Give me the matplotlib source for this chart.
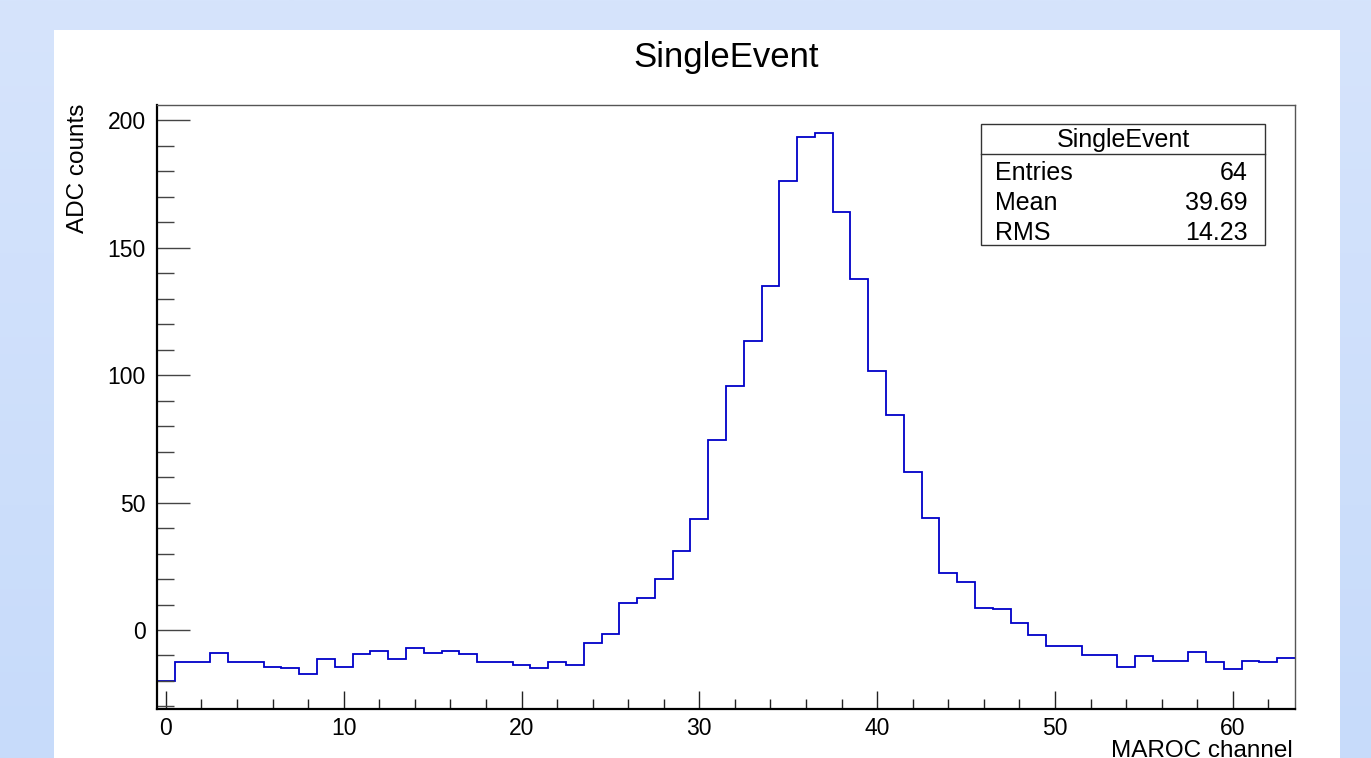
import numpy as np
import matplotlib
matplotlib.use("Agg")
import matplotlib.pyplot as plt
from matplotlib.patches import Rectangle
from matplotlib.ticker import MultipleLocator

plt.rcParams['font.family'] = ['Liberation Sans', 'DejaVu Sans']

# contenu du histogramme (64 canaux MAROC)
channels = np.arange(64)
adc_counts = [-20.0, -12.5, -12.5, -9.1, -12.5, -12.5, -14.4, -14.8, -17.3, -11.2,
              -14.4, -9.5, -8.2, -11.3, -6.9, -9.1, -8.2, -9.5, -12.5, -12.5,
              -13.9, -14.8, -12.4, -13.9, -5.0, -1.5, 10.4, 12.5, 20.2, 31.1,
              43.6, 74.4, 95.6, 113.4, 135.0, 176.2, 193.6, 194.9, 164.0, 137.8,
              101.5, 84.2, 61.8, 44.0, 22.3, 18.9, 8.7, 8.2, 2.9, -2.0,
              -6.1, -6.1, -9.7, -9.7, -14.4, -10.1, -12.0, -12.0, -8.8, -12.5,
              -15.4, -12.0, -12.5, -10.8]
hist_title = "SingleEvent"
stat_names = ["Entries", "Mean", "RMS"]
stat_values = ["64", "39.69", "14.23"]

W, H = 1371, 758
fig = plt.figure(figsize=(W / 100, H / 100), dpi=100)


def fx(px):
    return px / W


def fy(py):
    return 1 - py / H


# fond bleu dégradé
bg = fig.add_axes([0, 0, 1, 1], zorder=-2)
grad = np.linspace(0, 1, 256)[:, None, None]
top = np.array([214, 228, 252]) / 255
bot = np.array([199, 219, 250]) / 255
bg.imshow(top * (1 - grad) + bot * grad, aspect='auto', extent=[0, 1, 0, 1])
bg.axis('off')

# canvas blanc
fig.patches.append(Rectangle((fx(54), 0), fx(1340) - fx(54), fy(30),
                             transform=fig.transFigure, facecolor='white',
                             edgecolor='none', zorder=-1))

ax = fig.add_axes([fx(157), fy(709), fx(1295) - fx(157), fy(105) - fy(709)])
ax.set_facecolor('white')

edges = np.append(channels - 0.5, channels[-1] + 0.5)
ax.stairs(adc_counts, edges, baseline=None, color='#0000c8', linewidth=1.3)

ax.set_xlim(-0.5, 63.5)
ax.set_ylim(-31, 206)

ax.xaxis.set_major_locator(MultipleLocator(10))
ax.xaxis.set_minor_locator(MultipleLocator(2))
ax.yaxis.set_major_locator(MultipleLocator(50))
ax.yaxis.set_minor_locator(MultipleLocator(10))

ax.tick_params(axis='x', which='major', direction='in', length=13, width=1,
               labelsize=16.5, pad=6, color='#222222')
ax.tick_params(axis='x', which='minor', direction='in', length=7, width=1,
               color='#222222')
ax.tick_params(axis='y', which='major', direction='in', length=24, width=1,
               labelsize=16.5, pad=8, color='#444444')
ax.tick_params(axis='y', which='minor', direction='in', length=12, width=1,
               color='#444444')

for side in ['left', 'bottom']:
    ax.spines[side].set_linewidth(1.6)
    ax.spines[side].set_color('black')
for side in ['top', 'right']:
    ax.spines[side].set_linewidth(1.0)
    ax.spines[side].set_color('#555555')

# titres
fig.text(fx(726), fy(66.5), hist_title, ha='center', va='baseline', fontsize=25)
fig.text(fx(78), fy(104), "ADC counts", rotation=90, ha='center', va='top',
         fontsize=17.5)
# comme sur la référence, le titre de l'axe x touche le bord inférieur
fig.text(fx(1293), fy(757), "MAROC channel", ha='right', va='baseline',
         fontsize=17.5)

# boîte de statistiques
x0, x1, y0, y1, ysep = 981, 1265, 124, 245, 154
fig.patches.append(Rectangle((fx(x0), fy(y1)), fx(x1) - fx(x0), fy(y0) - fy(y1),
                             transform=fig.transFigure, facecolor='white',
                             edgecolor='#333333', linewidth=1.0, zorder=5))
fig.lines.append(plt.Line2D([fx(x0), fx(x1)], [fy(ysep), fy(ysep)],
                            transform=fig.transFigure, color='#333333',
                            linewidth=1.0, zorder=6))
fig.text(fx((x0 + x1) / 2), fy(147), hist_title, ha='center', va='baseline',
         fontsize=18, zorder=7)
for i, (name, val) in enumerate(zip(stat_names, stat_values)):
    yb = 179.5 + i * 30.5
    fig.text(fx(995), fy(yb), name, ha='left', va='baseline', fontsize=18, zorder=7)
    fig.text(fx(1248), fy(yb), val, ha='right', va='baseline', fontsize=18, zorder=7)

fig.savefig('out.png', dpi=100)
